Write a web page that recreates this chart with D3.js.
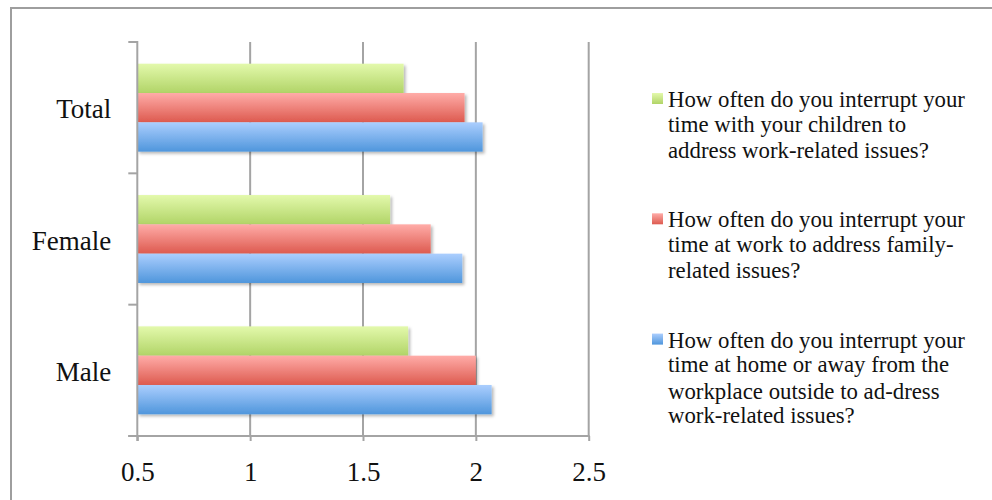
<!DOCTYPE html>
<html>
<head>
<meta charset="utf-8">
<script src="https://cdn.jsdelivr.net/npm/d3@7/dist/d3.min.js"></script>
<style>
  html, body { margin: 0; padding: 0; background: #fff; }
  svg { display: block; }
  text { font-family: "Liberation Serif", "Times New Roman", serif; fill: #111; }
</style>
</head>
<body>
<svg id="chart" width="992" height="500"></svg>
<script>
// Groups shown on the vertical axis, top to bottom
const categories = ["Total", "Female", "Male"];

// Survey questions (series), in legend / bar order
const seriesKeys = ["children", "work", "home"];
const seriesLabels = [
  ["How often do you interrupt your", "time with your children to", "address work-related issues?"],
  ["How often do you interrupt your", "time at work to address family-", "related issues?"],
  ["How often do you interrupt your", "time at home or away from the", "workplace outside to ad-dress", "work-related issues?"]
];

// Mean scores per group, one array per series (Total, Female, Male)
const childrenValues = [1.68, 1.62, 1.70];
const workValues     = [1.95, 1.80, 2.00];
const homeValues     = [2.03, 1.94, 2.07];

// Value axis ticks
const xTicks = [0.5, 1, 1.5, 2, 2.5];
const xTickLabels = ["0.5", "1", "1.5", "2", "2.5"];

const seriesValues = { children: childrenValues, work: workValues, home: homeValues };
const rows = categories.map((c, i) => ({
  category: c,
  values: seriesKeys.map(k => ({ key: k, value: seriesValues[k][i] }))
}));

const gradients = {
  children: ["#e3f9ac", "#b1d467"],
  work:     ["#ffaca8", "#dd5a4f"],
  home:     ["#abcefe", "#4f96dc"]
};

const svg = d3.select("#chart");
const defs = svg.append("defs");

Object.entries(gradients).forEach(([k, [top, bottom]]) => {
  const g = defs.append("linearGradient")
    .attr("id", "grad-" + k)
    .attr("x1", 0).attr("y1", 0).attr("x2", 0).attr("y2", 1);
  g.append("stop").attr("offset", "0%").attr("stop-color", top);
  g.append("stop").attr("offset", "100%").attr("stop-color", bottom);
});

const shadow = defs.append("filter").attr("id", "barShadow")
  .attr("x", "-5%").attr("y", "-20%").attr("width", "115%").attr("height", "160%");
shadow.append("feDropShadow")
  .attr("dx", 2).attr("dy", 2).attr("stdDeviation", 1.6)
  .attr("flood-color", "#000").attr("flood-opacity", 0.28);

// Outer frame
svg.append("rect")
  .attr("x", 11).attr("y", 8).attr("width", 1100).attr("height", 700)
  .attr("fill", "none").attr("stroke", "#9e9e9e").attr("stroke-width", 2);

const plotTop = 42, plotBottom = 436;
const x = d3.scaleLinear().domain([0.5, 2.5]).range([137.3, 588.7]);
const y0 = d3.scaleBand().domain(categories).range([plotTop, plotBottom]).padding(0);
const y1 = d3.scaleBand().domain(seriesKeys).range([0, y0.bandwidth()])
  .paddingInner(0).paddingOuter(0.74);

const axisColor = "#a4a4a4";

// Vertical gridlines
svg.append("g").selectAll("line")
  .data(xTicks.slice(1))
  .join("line")
  .attr("x1", d => x(d)).attr("x2", d => x(d))
  .attr("y1", plotTop).attr("y2", plotBottom)
  .attr("stroke", axisColor).attr("stroke-width", 2);

// Bars
const groups = svg.append("g").selectAll("g")
  .data(rows)
  .join("g")
  .attr("transform", d => `translate(0,${y0(d.category)})`);

groups.selectAll("rect")
  .data(d => d.values)
  .join("rect")
  .attr("x", x(0.5))
  .attr("y", d => y1(d.key))
  .attr("width", d => x(d.value) - x(0.5))
  .attr("height", y1.bandwidth())
  .attr("fill", d => `url(#grad-${d.key})`)
  .attr("filter", "url(#barShadow)");

// Bottom value axis
const xAxis = svg.append("g")
  .attr("transform", `translate(0,${plotBottom})`)
  .call(d3.axisBottom(x).tickValues(xTicks)
    .tickFormat((d, i) => xTickLabels[i]).tickSize(5).tickPadding(21));
xAxis.select(".domain").remove();
xAxis.selectAll(".tick line").attr("stroke", axisColor).attr("stroke-width", 2);
xAxis.selectAll("text").attr("font-size", 27)
  .attr("font-family", "Liberation Serif, serif").attr("fill", "#111");
svg.append("line")
  .attr("x1", x(0.5) - 9).attr("x2", x(2.5) + 1)
  .attr("y1", plotBottom).attr("y2", plotBottom)
  .attr("stroke", axisColor).attr("stroke-width", 2);

// Left category axis: line, boundary ticks, labels
svg.append("line")
  .attr("x1", x(0.5)).attr("x2", x(0.5))
  .attr("y1", plotTop - 1).attr("y2", plotBottom + 5)
  .attr("stroke", axisColor).attr("stroke-width", 2);

const boundaries = categories.map(c => y0(c)).concat([y0.range()[1]]);
svg.append("g").selectAll("line")
  .data(boundaries)
  .join("line")
  .attr("x1", x(0.5) - 9).attr("x2", x(0.5))
  .attr("y1", d => d).attr("y2", d => d)
  .attr("stroke", axisColor).attr("stroke-width", 2);

const yAxis = svg.append("g")
  .attr("transform", `translate(${x(0.5)},0)`)
  .call(d3.axisLeft(y0).tickSize(0).tickPadding(26));
yAxis.select(".domain").remove();
yAxis.selectAll("text").attr("font-size", 27)
  .attr("font-family", "Liberation Serif, serif").attr("fill", "#111")
  .attr("dy", "0.4em");

// Legend
const legendX = 668, legendY0 = 107, legendStep = 120.3;
const lineOffsets = [0, 24.5, 51, 75];
const legend = svg.append("g").selectAll("g")
  .data(seriesKeys)
  .join("g")
  .attr("transform", (d, i) => `translate(${legendX},${legendY0 + i * legendStep})`);

legend.append("rect")
  .attr("x", -16).attr("y", -14).attr("width", 11).attr("height", 11)
  .attr("fill", d => `url(#grad-${d})`);

legend.append("text")
  .attr("font-size", 22.8)
  .selectAll("tspan")
  .data((d, i) => seriesLabels[i].map((t, j) => ({ t, j })))
  .join("tspan")
  .attr("x", 0)
  .attr("y", d => lineOffsets[d.j])
  .text(d => d.t);
</script>
</body>
</html>
